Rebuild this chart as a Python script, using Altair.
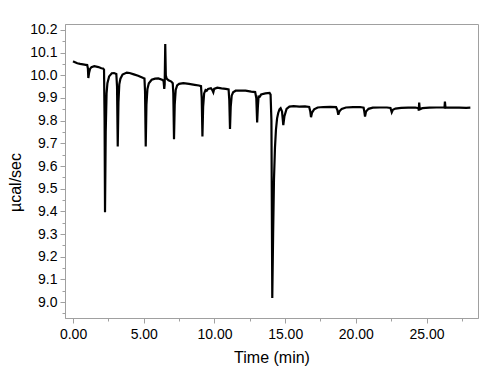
import altair as alt
import pandas as pd

# Time (min) and heat rate (µcal/sec)
time_min = [
    0.00, 0.10, 0.30, 0.50, 0.70, 0.90, 1.00,
    1.05, 1.08, 1.13, 1.20, 1.30, 1.50, 1.80, 2.00, 2.12,
    2.19, 2.23, 2.26, 2.31, 2.37, 2.43, 2.55, 2.74, 2.90, 3.06,
    3.11, 3.16, 3.21, 3.27, 3.35, 3.50, 3.80, 4.00, 4.30, 4.60, 4.97, 5.05,
    5.09, 5.14, 5.19, 5.26, 5.36, 5.56, 5.80, 6.03, 6.30,
    6.40, 6.45, 6.48, 6.52, 6.56, 6.62, 6.75, 6.95, 7.05,
    7.09, 7.14, 7.19, 7.26, 7.36, 7.50, 7.80, 8.20, 8.60, 8.90, 9.05,
    9.10, 9.15, 9.20, 9.27, 9.37, 9.45, 9.55, 9.75, 9.85, 9.92, 9.98, 10.20, 10.50, 10.80, 11.00,
    11.05, 11.10, 11.15, 11.22, 11.32, 11.50, 11.80, 12.20, 12.60, 12.88,
    12.96, 13.02, 13.07, 13.12, 13.20, 13.30, 13.60, 13.90, 13.97,
    14.03, 14.09, 14.15, 14.21, 14.28, 14.35, 14.43, 14.51, 14.60, 14.68, 14.78, 14.87, 14.95, 15.10, 15.30,
    15.60, 16.00, 16.40, 16.70, 16.78, 16.83, 16.90, 17.05, 17.30, 17.70,
    18.20, 18.60, 18.70, 18.76, 18.83, 19.00, 19.30, 19.80,
    20.30, 20.55, 20.60, 20.65, 20.72, 20.90, 21.20, 21.70,
    22.20, 22.45, 22.54, 22.62, 22.80, 23.20, 23.70,
    24.20, 24.42, 24.45, 24.48, 24.52, 24.70, 25.20, 25.70,
    26.20, 26.27, 26.30, 26.34, 26.80, 27.30, 27.80, 28.10,
]
heat_rate = [
    10.062, 10.058, 10.053, 10.050, 10.048, 10.046, 10.045,
    10.030, 9.988, 10.010, 10.028, 10.036, 10.040, 10.036, 10.031, 10.030,
    10.025, 9.800, 9.396, 9.750, 9.920, 9.965, 9.995, 10.009, 10.010, 10.006,
    9.950, 9.686, 9.880, 9.960, 9.985, 10.003, 10.012, 10.010, 10.004, 9.998, 9.988, 9.986,
    9.930, 9.686, 9.870, 9.940, 9.965, 9.980, 9.985, 9.986, 9.980,
    9.976, 9.940, 9.960, 10.138, 10.000, 9.985, 9.978, 9.972, 9.965,
    9.920, 9.718, 9.870, 9.935, 9.955, 9.962, 9.965, 9.962, 9.958, 9.955, 9.952,
    9.900, 9.730, 9.860, 9.920, 9.935, 9.932, 9.940, 9.943, 9.935, 9.925, 9.940, 9.945, 9.942, 9.940, 9.938,
    9.890, 9.763, 9.860, 9.910, 9.925, 9.932, 9.932, 9.932, 9.928, 9.926,
    9.900, 9.792, 9.860, 9.906, 9.905, 9.915, 9.920, 9.922, 9.915,
    9.800, 9.018, 9.300, 9.540, 9.680, 9.760, 9.810, 9.834, 9.850, 9.855, 9.840, 9.780, 9.820, 9.852, 9.862,
    9.864, 9.862, 9.863, 9.860, 9.840, 9.815, 9.835, 9.850, 9.858, 9.860,
    9.861, 9.860, 9.845, 9.826, 9.840, 9.852, 9.858, 9.860,
    9.860, 9.857, 9.840, 9.818, 9.840, 9.852, 9.857, 9.858,
    9.858, 9.856, 9.837, 9.848, 9.853, 9.856, 9.857,
    9.858, 9.855, 9.845, 9.880, 9.850, 9.855, 9.857, 9.858,
    9.858, 9.857, 9.884, 9.857, 9.857, 9.857, 9.856, 9.857,
]

x_ticks = [0.0, 2.5, 5.0, 7.5, 10.0, 12.5, 15.0, 17.5, 20.0, 22.5, 25.0, 27.5]
y_ticks = [8.95, 9.0, 9.05, 9.1, 9.15, 9.2, 9.25, 9.3, 9.35, 9.4, 9.45, 9.5,
           9.55, 9.6, 9.65, 9.7, 9.75, 9.8, 9.85, 9.9, 9.95, 10.0, 10.05,
           10.1, 10.15, 10.2]

df = pd.DataFrame({"t": time_min, "p": heat_rate})

FONT = "Liberation Sans"
GREY = "#a0a0a0"

x_major = "abs(datum.value/5 - round(datum.value/5)) < 0.001"
y_major = "abs(datum.value*10 - round(datum.value*10)) < 0.001"

chart = alt.Chart(df).mark_line(color="black", strokeWidth=2.2, clip=True).encode(
    x=alt.X("t:Q", scale=alt.Scale(domain=[-0.57, 28.64], nice=False, zero=False),
            axis=alt.Axis(title="Time (min)", values=x_ticks,
                          labelExpr=f"{x_major} ? format(datum.value, '.2f') : ''",
                          tickSize={"condition": {"test": x_major, "value": 5}, "value": 3},
                          grid=False, domainColor=GREY, tickColor=GREY,
                          labelFont=FONT, labelFontSize=14, labelColor="black",
                          labelPadding=4, titleFont=FONT, titleFontSize=16,
                          titleFontWeight="normal", titleColor="black", titlePadding=8)),
    y=alt.Y("p:Q", scale=alt.Scale(domain=[8.93, 10.226], nice=False, zero=False),
            axis=alt.Axis(title="µcal/sec", values=y_ticks,
                          labelExpr=f"{y_major} ? format(datum.value, '.1f') : ''",
                          tickSize={"condition": {"test": y_major, "value": 5}, "value": 3},
                          grid=False, domainColor=GREY, tickColor=GREY,
                          labelFont=FONT, labelFontSize=14, labelColor="black",
                          labelPadding=3, titleFont=FONT, titleFontSize=16,
                          titleFontWeight="normal", titleColor="black",
                          titlePadding=6, titleY=158)),
).properties(
    width=413, height=294,
    autosize=alt.AutoSizeParams(type="none"),
    padding={"left": 57, "top": 16, "right": 10, "bottom": 50},
).configure_view(stroke=GREY, strokeWidth=1)

chart.save("out.html", embed_options={"renderer": "svg", "actions": False})
